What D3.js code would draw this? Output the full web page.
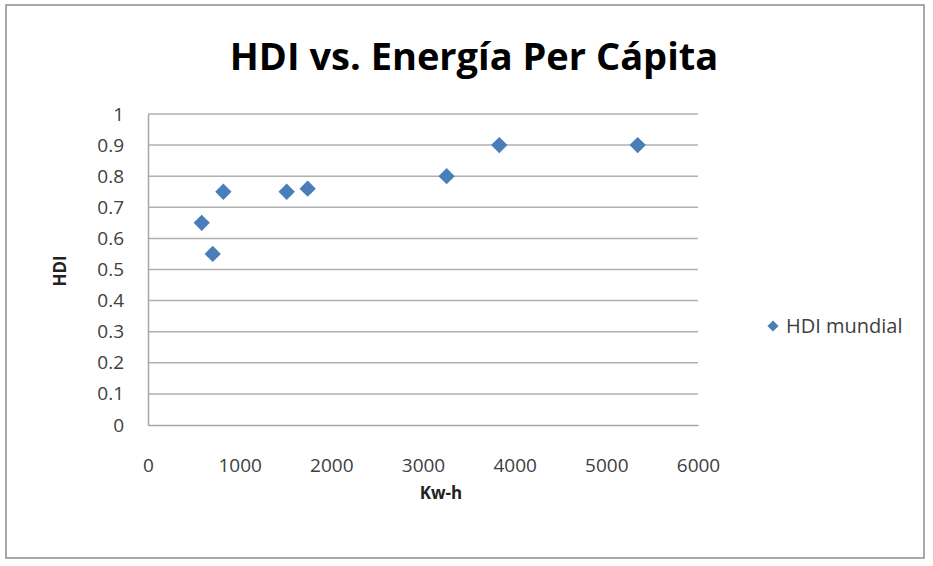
<!DOCTYPE html>
<html lang="es">
<head>
<meta charset="utf-8">
<title>HDI vs. Energía Per Cápita</title>
<script src="https://d3js.org/d3.v7.min.js"></script>
<style>
body { margin: 0; background: #fff; }
svg { display: block; font-family: "Open Sans", sans-serif; }
.tick text { fill: #404040; font-size: 19px; }
.grid line { stroke: #b0b0b0; stroke-width: 1.5px; }
</style>
</head>
<body>
<svg width="933" height="566"></svg>
<script>
// data
var kwh = [586, 706, 822, 1513, 1742, 3258, 3832, 5342];
var hdi = [0.65, 0.55, 0.75, 0.75, 0.76, 0.80, 0.90, 0.90];
var xTicks = [0, 1000, 2000, 3000, 4000, 5000, 6000];
var yTicks = [0, 0.1, 0.2, 0.3, 0.4, 0.5, 0.6, 0.7, 0.8, 0.9, 1];
var seriesName = "HDI mundial";

var svg = d3.select("svg"),
    plotLeft = 148, plotRight = 698, plotTop = 114, plotBottom = 425;

// outer chart border
svg.append("rect")
    .attr("x", 6).attr("y", 5).attr("width", 918).attr("height", 553)
    .attr("fill", "#fff").attr("stroke", "#8c8c8c").attr("stroke-width", 1.5);

var x = d3.scaleLinear().domain([0, 6000]).range([plotLeft, plotRight]);
var y = d3.scaleLinear().domain([0, 1]).range([plotBottom, plotTop]);

// horizontal gridlines
svg.append("g").attr("class", "grid")
  .selectAll("line")
  .data(yTicks.slice(1))
  .enter().append("line")
    .attr("x1", plotLeft).attr("x2", plotRight)
    .attr("y1", function(d) { return y(d); })
    .attr("y2", function(d) { return y(d); });

// axes
var xAxis = svg.append("g")
    .attr("transform", "translate(0," + plotBottom + ")")
    .call(d3.axisBottom(x).tickValues(xTicks).tickSize(0).tickPadding(34)
      .tickFormat(d3.format("d")));
xAxis.select(".domain").attr("stroke", "#a6a6a6").attr("stroke-width", 1.5);

var yAxis = svg.append("g")
    .attr("transform", "translate(" + plotLeft + ",0)")
    .call(d3.axisLeft(y).tickValues(yTicks).tickSize(0).tickPadding(24)
      .tickFormat(function(d) { return d === 0 || d === 1 ? d3.format("d")(d) : d3.format(".1f")(d); }));
yAxis.select(".domain").attr("stroke", "#a6a6a6").attr("stroke-width", 1.5);
svg.selectAll(".tick text").attr("font-family", "Open Sans, sans-serif");

// points
var diamond = d3.symbol().type(d3.symbolDiamond2).size(170);
svg.append("g").selectAll("path")
  .data(kwh.map(function(k, i) { return { x: k, y: hdi[i] }; }))
  .enter().append("path")
    .attr("d", diamond)
    .attr("transform", function(d) { return "translate(" + x(d.x) + "," + y(d.y) + ")"; })
    .attr("fill", "#4a7ebb");

// title
svg.append("text")
    .attr("x", 474).attr("y", 70)
    .attr("text-anchor", "middle")
    .attr("font-size", 38).attr("font-weight", "bold")
    .attr("fill", "#000")
    .text("HDI vs. Energía Per Cápita");

// axis titles
svg.append("text")
    .attr("x", 441).attr("y", 499)
    .attr("text-anchor", "middle")
    .attr("font-size", 17).attr("font-weight", "bold")
    .attr("fill", "#222")
    .text("Kw-h");

svg.append("text")
    .attr("transform", "translate(66,271) rotate(-90)")
    .attr("text-anchor", "middle")
    .attr("font-size", 17).attr("font-weight", "bold")
    .attr("fill", "#222")
    .text("HDI");

// legend
var lg = svg.append("g").attr("transform", "translate(773,326)");
lg.append("path").attr("d", d3.symbol().type(d3.symbolDiamond2).size(80)).attr("fill", "#4a7ebb");
lg.append("text").attr("x", 13).attr("y", 7)
    .attr("font-size", 20).attr("fill", "#404040")
    .text(seriesName);
</script>
</body>
</html>
